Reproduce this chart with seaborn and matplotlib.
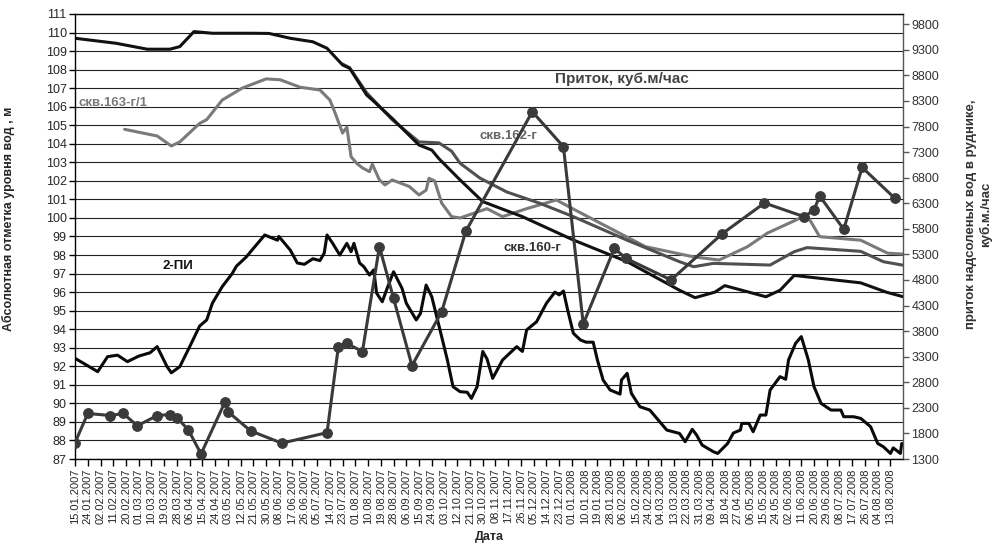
import numpy as np
import pandas as pd
import matplotlib
matplotlib.use("Agg")
import matplotlib.pyplot as plt
import matplotlib.dates as mdates
import matplotlib.ticker as mticker
import seaborn as sns

# --- level of water, скв.160-г (black)
dates_160 = ["15.01.2007", "13.02.2007", "07.03.2007", "23.03.2007", "30.03.2007", "09.04.2007",
             "22.04.2007", "20.05.2007", "01.06.2007", "16.06.2007", "02.07.2007", "12.07.2007",
             "23.07.2007", "28.07.2007", "09.08.2007", "13.08.2007", "27.08.2007", "15.09.2007",
             "24.09.2007", "29.09.2007", "14.10.2007", "30.10.2007", "27.11.2007", "02.01.2008",
             "09.02.2008", "17.03.2008", "28.03.2008", "11.04.2008", "18.04.2008", "17.05.2008",
             "27.05.2008", "06.06.2008", "23.07.2008", "10.08.2008", "22.08.2008"]
level_160 = [109.69, 109.42, 109.1, 109.1, 109.24, 110.05,
             109.96, 109.96, 109.95, 109.69, 109.5, 109.15,
             108.25, 108.07, 106.63, 106.36, 105.37, 103.93,
             103.66, 103.2, 102.05, 100.88, 100.07, 98.81,
             97.64, 96.1, 95.7, 96.0, 96.35, 95.75,
             96.1, 96.9, 96.5, 96.0, 95.75]

# --- скв.162-г (dark grey)
dates_162 = ["23.07.2007", "28.07.2007", "09.08.2007", "27.08.2007", "15.09.2007", "29.09.2007",
             "08.10.2007", "14.10.2007", "28.10.2007", "16.11.2007", "09.12.2007", "02.01.2008",
             "09.02.2008", "17.03.2008", "27.03.2008", "10.04.2008", "20.05.2008", "06.06.2008",
             "15.06.2008", "23.07.2008", "08.08.2008", "22.08.2008"]
level_162 = [108.3, 108.1, 106.75, 105.3, 104.1, 104.05,
             103.6, 102.95, 102.15, 101.4, 100.8, 100.07,
             98.8, 97.64, 97.37, 97.55, 97.46, 98.18,
             98.4, 98.2, 97.64, 97.45]

# --- скв.163-г/1 (light grey)
dates_163 = ["19.02.2007", "14.03.2007", "24.03.2007", "30.03.2007", "13.04.2007", "18.04.2007",
             "29.04.2007", "13.05.2007", "30.05.2007", "09.06.2007", "23.06.2007", "07.07.2007",
             "14.07.2007", "17.07.2007", "23.07.2007", "26.07.2007", "29.07.2007", "02.08.2007",
             "06.08.2007", "11.08.2007", "13.08.2007", "18.08.2007", "22.08.2007", "27.08.2007",
             "08.09.2007", "15.09.2007", "20.09.2007", "22.09.2007", "26.09.2007", "01.10.2007",
             "08.10.2007", "14.10.2007", "02.11.2007", "13.11.2007", "30.11.2007", "21.12.2007",
             "30.12.2007", "21.01.2008", "22.02.2008", "27.03.2008", "14.04.2008", "04.05.2008",
             "18.05.2008", "15.06.2008", "24.06.2008", "23.07.2008", "11.08.2008", "22.08.2008"]
level_163 = [104.78, 104.42, 103.88, 104.1, 105.1, 105.3,
             106.36, 107.0, 107.5, 107.45, 107.05, 106.9,
             106.36, 105.8, 104.58, 104.9, 103.3, 102.94,
             102.7, 102.5, 102.9, 102.05, 101.78, 102.05,
             101.7, 101.24, 101.5, 102.14, 102.0, 100.8,
             100.07, 100.0, 100.5, 100.07, 100.5, 100.97,
             100.6, 99.72, 98.45, 97.9, 97.73, 98.45,
             99.18, 100.16, 98.99, 98.8, 98.1, 98.05]

# --- 2-ПИ (black, lower)
dates_2pi = ["15.01.2007", "25.01.2007", "31.01.2007", "07.02.2007", "14.02.2007", "21.02.2007",
             "01.03.2007", "09.03.2007", "14.03.2007", "21.03.2007", "24.03.2007", "30.03.2007",
             "06.04.2007", "13.04.2007", "18.04.2007", "22.04.2007", "29.04.2007", "06.05.2007",
             "09.05.2007", "16.05.2007", "20.05.2007", "29.05.2007", "07.06.2007", "08.06.2007",
             "16.06.2007", "21.06.2007", "26.06.2007", "02.07.2007", "07.07.2007", "10.07.2007",
             "12.07.2007", "16.07.2007", "21.07.2007", "26.07.2007", "29.07.2007", "31.07.2007",
             "04.08.2007", "07.08.2007", "11.08.2007", "14.08.2007", "16.08.2007", "20.08.2007",
             "23.08.2007", "28.08.2007", "03.09.2007", "06.09.2007", "13.09.2007", "16.09.2007",
             "20.09.2007", "24.09.2007", "30.09.2007", "05.10.2007", "09.10.2007", "14.10.2007",
             "19.10.2007", "22.10.2007", "26.10.2007", "30.10.2007", "02.11.2007", "06.11.2007",
             "13.11.2007", "23.11.2007", "27.11.2007", "30.11.2007", "07.12.2007", "14.12.2007",
             "20.12.2007", "23.12.2007", "26.12.2007", "29.12.2007", "02.01.2008", "07.01.2008",
             "11.01.2008", "16.01.2008", "19.01.2008", "23.01.2008", "28.01.2008", "04.02.2008",
             "05.02.2008", "09.02.2008", "12.02.2008", "18.02.2008", "25.02.2008", "08.03.2008",
             "17.03.2008", "21.03.2008", "26.03.2008", "29.03.2008", "02.04.2008", "10.04.2008",
             "13.04.2008", "20.04.2008", "24.04.2008", "29.04.2008", "30.04.2008", "05.05.2008",
             "08.05.2008", "13.05.2008", "17.05.2008", "20.05.2008", "27.05.2008", "31.05.2008",
             "02.06.2008", "07.06.2008", "11.06.2008", "16.06.2008", "20.06.2008", "25.06.2008",
             "02.07.2008", "09.07.2008", "11.07.2008", "18.07.2008", "23.07.2008", "30.07.2008",
             "04.08.2008", "08.08.2008", "13.08.2008", "15.08.2008", "20.08.2008", "21.08.2008"]
level_2pi = [92.43, 91.98, 91.71, 92.52, 92.6, 92.25,
             92.55, 92.73, 93.06, 91.98, 91.65, 91.98,
             93.06, 94.17, 94.5, 95.4, 96.3, 97.0,
             97.4, 97.9, 98.27, 99.08, 98.8, 99.0,
             98.27, 97.57, 97.5, 97.8, 97.7, 98.1,
             99.08, 98.63, 98.0, 98.63, 98.18, 98.63,
             97.57, 97.37, 96.92, 97.2, 95.95, 95.48,
             96.11, 97.1, 96.2, 95.4, 94.5, 94.85,
             96.38, 95.75, 93.9, 92.34, 90.9, 90.63,
             90.6, 90.27, 90.9, 92.8, 92.4, 91.35,
             92.34, 93.06, 92.8, 93.96, 94.4, 95.4,
             96.0, 95.85, 96.06, 95.03, 93.78, 93.42,
             93.3, 93.3, 92.34, 91.26, 90.72, 90.5,
             91.26, 91.62, 90.54, 89.82, 89.64, 88.56,
             88.38, 87.93, 88.6, 88.3, 87.75, 87.39,
             87.3, 87.84, 88.4, 88.56, 88.92, 88.92,
             88.47, 89.37, 89.37, 90.72, 91.44, 91.3,
             92.34, 93.24, 93.6, 92.34, 90.9, 90.0,
             89.64, 89.64, 89.28, 89.28, 89.19, 88.74,
             87.84, 87.66, 87.3, 87.6, 87.3, 87.84]

# --- приток, куб.м/час (right axis, with markers)
dates_q = ["15.01.2007", "24.01.2007", "09.02.2007", "18.02.2007", "28.02.2007", "14.03.2007",
           "23.03.2007", "28.03.2007", "05.04.2007", "14.04.2007", "01.05.2007", "03.05.2007",
           "19.05.2007", "10.06.2007", "12.07.2007", "20.07.2007", "26.07.2007", "06.08.2007",
           "18.08.2007", "28.08.2007", "10.09.2007", "01.10.2007", "18.10.2007", "04.12.2007",
           "26.12.2007", "09.01.2008", "31.01.2008", "08.02.2008", "11.03.2008", "16.04.2008",
           "16.05.2008", "13.06.2008", "20.06.2008", "24.06.2008", "11.07.2008", "24.07.2008",
           "16.08.2008"]
inflow = [1620, 2190, 2150, 2190, 1950, 2150,
          2170, 2110, 1870, 1400, 2420, 2225,
          1850, 1610, 1815, 3495, 3560, 3400,
          5450, 4440, 3125, 4180, 5750, 8090,
          7405, 3940, 5420, 5225, 4800, 5700,
          6305, 6037, 6168, 6442, 5790, 7000,
          6400]


def to_df(d, v):
    return pd.DataFrame({"date": pd.to_datetime(d, format="%d.%m.%Y"), "value": v})


sns.set_theme(style="white")
plt.rcParams["font.family"] = ["Liberation Sans", "DejaVu Sans"]

fig, ax = plt.subplots(figsize=(9.98, 5.48), dpi=100)
fig.subplots_adjust(left=0.0752, right=0.905, bottom=0.1624, top=0.9745)

LW = 2.2

# horizontal grid at every metre
for lvl in range(87, 112):
    ax.axhline(lvl, color="#222222", lw=0.8, zorder=0)

sns.lineplot(data=to_df(dates_163, level_163), x="date", y="value", ax=ax, color="#7a7a7a", lw=LW)
sns.lineplot(data=to_df(dates_162, level_162), x="date", y="value", ax=ax, color="#505050", lw=LW)
sns.lineplot(data=to_df(dates_160, level_160), x="date", y="value", ax=ax, color="#111111", lw=LW)
sns.lineplot(data=to_df(dates_2pi, level_2pi), x="date", y="value", ax=ax, color="#0a0a0a", lw=LW)

ax.set_ylim(87, 111)
ax.yaxis.set_major_locator(mticker.MultipleLocator(1))
ax.set_xlim(pd.Timestamp("2007-01-15"), pd.Timestamp("2008-08-22"))

ticks = pd.date_range("2007-01-15", "2008-08-13", freq="9D")
ax.xaxis.set_major_locator(mticker.FixedLocator(mdates.date2num(ticks)))
ax.xaxis.set_major_formatter(mdates.DateFormatter("%d.%m.%Y"))
ax.xaxis.set_minor_locator(mdates.DayLocator())
ax.tick_params(axis="x", which="major", direction="out", length=5, width=1, color="black",
               labelsize=8, labelrotation=90, pad=2)
ax.tick_params(axis="x", which="minor", direction="inout", length=3, width=0.6, color="black")
ax.tick_params(axis="y", which="major", direction="out", length=4, width=1, color="black",
               labelsize=9, pad=2)
ax.tick_params(axis="x", bottom=True)
ax.tick_params(axis="y", left=True)

ax.set_xlabel("Дата", fontsize=9, fontweight="bold", labelpad=5)
ax.set_ylabel("Абсолютная отметка уровня вод , м", fontsize=9, fontweight="bold")
ax.yaxis.set_label_coords(-0.072, 0.54)

for s in ax.spines.values():
    s.set_color("black")
    s.set_linewidth(1.0)
ax.spines["right"].set_color("#555555")

# right axis: inflow
ax2 = ax.twinx()
sns.lineplot(data=to_df(dates_q, inflow), x="date", y="value", ax=ax2, color="#3a3a3a", lw=LW,
             marker="o", markersize=7, markeredgecolor="#3a3a3a")
ax2.set_ylim(1300, 10000)
ax2.yaxis.set_major_locator(mticker.FixedLocator(np.arange(1300, 9801, 500)))
ax2.tick_params(axis="y", direction="out", length=4, width=1, color="#555555", labelsize=9,
                labelcolor="#333333", right=True, pad=2)
ax2.set_ylabel("приток надсоленых вод в руднике,\nкуб.м./час", fontsize=9.5, fontweight="bold",
               color="#333333")
ax2.yaxis.set_label_coords(1.075, 0.55)
ax2.set_xlabel("")
ax2.grid(False)
for s in ax2.spines.values():
    s.set_visible(False)

# series labels
ax.text(0.004, 0.8, "скв.163-г/1", transform=ax.transAxes, fontsize=9.5, fontweight="bold",
        color="#7a7a7a", va="center")
ax.text(0.58, 0.855, "Приток, куб.м/час", transform=ax.transAxes, fontsize=11, fontweight="bold",
        color="#444444", va="center")
ax.text(0.488, 0.726, "скв.162-г", transform=ax.transAxes, fontsize=9.5, fontweight="bold",
        color="#666666", va="center")
ax.text(0.517, 0.475, "скв.160-г", transform=ax.transAxes, fontsize=9.5, fontweight="bold",
        color="#333333", va="center")
ax.text(0.106, 0.433, "2-ПИ", transform=ax.transAxes, fontsize=9.5, fontweight="bold",
        color="#111111", va="center")

fig.savefig("out.png", dpi=100)
